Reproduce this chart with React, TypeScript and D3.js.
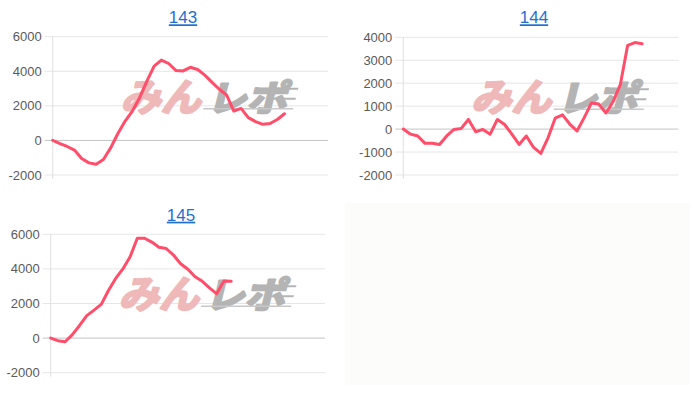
import React from "react";
import * as d3 from "d3";

const series143 = [0, -180, -350, -560, -1040, -1300, -1380, -1100, -430, 400, 1120, 1700, 2470, 3430, 4300, 4650, 4450, 4050, 4020, 4230, 4100, 3780, 3360, 2960, 2630, 1700, 1850, 1320, 1090, 930, 980, 1210, 1540];
const series144 = [0, -220, -300, -620, -620, -670, -300, -15, 30, 420, -115, -15, -220, 420, 200, -220, -670, -300, -800, -1060, -380, 480, 620, 220, -80, 500, 1140, 1090, 700, 1200, 1950, 3650, 3770, 3720];
const series145 = [0, -150, -210, 200, 730, 1300, 1620, 1950, 2750, 3450, 4000, 4700, 5770, 5770, 5550, 5250, 5180, 4800, 4300, 3980, 3550, 3280, 2900, 2560, 3300, 3280];

const ticks143 = [6000, 4000, 2000, 0, -2000];
const ticks144 = [4000, 3000, 2000, 1000, 0, -1000, -2000];
const ticks145 = [6000, 4000, 2000, 0, -2000];

const titles = ["143", "144", "145"];
const X_SLOTS = 38;

type PanelProps = {
  title: string;
  data: number[];
  ticks: number[];
  x0: number;
  x1: number;
  yTop: number;
  yBot: number;
  titleX: number;
  titleY: number;
};

function Panel({ title, data, ticks, x0, x1, yTop, yBot, titleX, titleY }: PanelProps) {
  const x = d3.scaleLinear().domain([0, X_SLOTS]).range([x0, x1]);
  const y = d3
    .scaleLinear()
    .domain([d3.min(ticks) as number, d3.max(ticks) as number])
    .range([yBot, yTop]);
  const line = d3
    .line<number>()
    .x((_, i) => x(i))
    .y((d) => y(d));
  const wmX = x0 + 62;
  const wmY = yTop + 44;
  return (
    <g>
      <text
        x={titleX}
        y={titleY}
        textAnchor="middle"
        fontFamily="'Liberation Sans', Arial, sans-serif"
        fontSize={17}
        fill="#1f6fd1"
        textDecoration="underline"
      >
        {title}
      </text>
      {ticks.map((t) => (
        <g key={t}>
          <line
            x1={x0 - 8}
            x2={x1}
            y1={y(t)}
            y2={y(t)}
            stroke={t === 0 ? "#c4c4c4" : "#e6e6e6"}
            strokeWidth={1}
          />
          <text
            x={x0 - 11}
            y={y(t)}
            dy="0.35em"
            textAnchor="end"
            fontFamily="'Liberation Sans', Arial, sans-serif"
            fontSize={13}
            fill="#5a5a5a"
          >
            {t}
          </text>
        </g>
      ))}
      <line x1={x0} x2={x0} y1={yTop} y2={yBot + 4} stroke="#e0e0e0" />
      <g transform={`translate(${wmX},${wmY + 30}) skewX(-14)`} fontFamily="'Noto Sans CJK JP', sans-serif" fontWeight="bold">
        <text x={6} y={0} fontSize={38} fill="#efb9b9" stroke="#efb9b9" strokeWidth={2.5} strokeLinejoin="round" textLength={80} lengthAdjust="spacingAndGlyphs">
          みん
        </text>
        <text x={92} y={0} fontSize={36} fill="#b4b4b4" stroke="#b4b4b4" strokeWidth={2.5} strokeLinejoin="round" textLength={80} lengthAdjust="spacingAndGlyphs">
          レポ
        </text>
        <line x1={150} x2={178} y1={-22} y2={-22} stroke="#b4b4b4" strokeWidth={2} />
        <line x1={150} x2={178} y1={-12} y2={-12} stroke="#b4b4b4" strokeWidth={2} />
        <line x1={88} x2={178} y1={-2} y2={-2} stroke="#c8c8c8" strokeWidth={1.5} />
      </g>
      <path d={line(data) || ""} fill="none" stroke="#ff4d6a" strokeWidth={3} strokeLinejoin="round" strokeLinecap="round" />
    </g>
  );
}

export default function App() {
  return (
    <svg width={700} height={394} style={{ position: "absolute", left: 0, top: 0, background: "#fff" }}>
      <rect x={0} y={0} width={700} height={394} fill="#fff" />
      <Panel title={titles[0]} data={series143} ticks={ticks143} x0={52.7} x1={328} yTop={36.7} yBot={175} titleX={183} titleY={23.3} />
      <Panel title={titles[1]} data={series144} ticks={ticks144} x0={403.3} x1={678.3} yTop={37.3} yBot={175} titleX={534} titleY={23.3} />
      <Panel title={titles[2]} data={series145} ticks={ticks145} x0={50.7} x1={325} yTop={234.3} yBot={372.7} titleX={181} titleY={220.7} />
      <rect x={345} y={203} width={345} height={182} fill="#fcfcfa" />
    </svg>
  );
}
